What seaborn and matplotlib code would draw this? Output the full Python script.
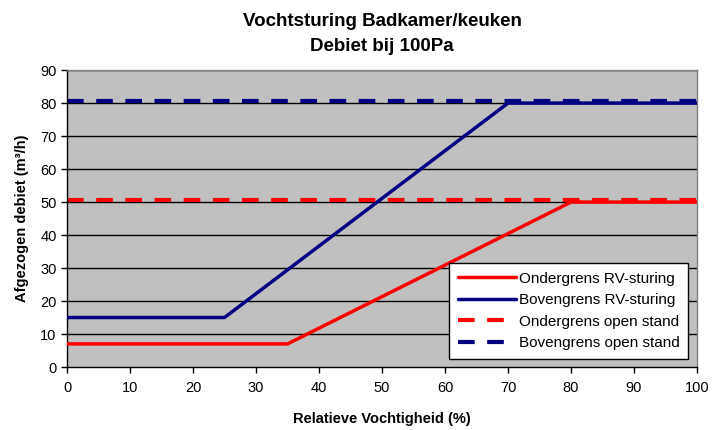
import pandas as pd
import matplotlib.pyplot as plt
import seaborn as sns

# data
onder_rv_x = [0, 35, 80, 100]
onder_rv_y = [7, 7, 50, 50]
boven_rv_x = [0, 25, 70, 100]
boven_rv_y = [15, 15, 80, 80]
open_x = [0, 100]
onder_open_y = [50.5, 50.5]
boven_open_y = [80.5, 80.5]

sns.set_style("white")
plt.rcParams['font.family'] = ['Liberation Sans', 'DejaVu Sans']
plt.rcParams['text.color'] = 'black'
plt.rcParams['axes.labelcolor'] = 'black'

fig = plt.figure(figsize=(7.13, 4.30), dpi=100)
ax = fig.add_axes([0.094, 0.1465, 0.8836, 0.6905])
ax.set_facecolor('#C0C0C0')

for y in range(10, 100, 10):
    ax.axhline(y, color='black', lw=1, zorder=1)

red = '#FF0000'
navy = '#000080'
sns.lineplot(x=onder_rv_x, y=onder_rv_y, ax=ax, color=red, lw=2.5,
             label='Ondergrens RV-sturing', zorder=3)
sns.lineplot(x=boven_rv_x, y=boven_rv_y, ax=ax, color=navy, lw=2.5,
             label='Bovengrens RV-sturing', zorder=3)
sns.lineplot(x=open_x, y=onder_open_y, ax=ax, color=red, lw=3,
             linestyle=(0, (4, 3)), label='Ondergrens open stand', zorder=2)
sns.lineplot(x=open_x, y=boven_open_y, ax=ax, color=navy, lw=3,
             linestyle=(0, (4, 3)), label='Bovengrens open stand', zorder=2)

ax.set_xlim(0, 100)
ax.set_ylim(0, 90)
ax.set_xticks(range(0, 101, 10))
ax.set_yticks(range(0, 91, 10))
ax.tick_params(axis='both', direction='out', length=4, width=1, colors='black',
               labelsize=10.5, bottom=True, left=True)
ax.tick_params(axis='x', pad=6)
for side in ['left', 'bottom']:
    ax.spines[side].set_color('black')
    ax.spines[side].set_linewidth(1)
for side in ['top', 'right']:
    ax.spines[side].set_color('#808080')
    ax.spines[side].set_linewidth(1)

ax.set_xlabel('Relatieve Vochtigheid (%)', fontsize=10.5, fontweight='bold', labelpad=12)
ax.set_ylabel('Afgezogen debiet (m³/h)', fontsize=10.5, fontweight='bold', labelpad=8)
ax.set_title('Vochtsturing Badkamer/keuken\nDebiet bij 100Pa', fontsize=13.5,
             fontweight='bold', pad=14, linespacing=1.6, color='black')

leg = ax.legend(loc='lower right', bbox_to_anchor=(0.993, 0.012), fontsize=11,
                frameon=True, fancybox=False, framealpha=1, edgecolor='black',
                handlelength=3.8, handletextpad=0.2, borderpad=0.55,
                labelspacing=0.5, borderaxespad=0.3)
leg.get_frame().set_linewidth(1)
leg.set_zorder(5)

fig.savefig('out.png', dpi=100)
